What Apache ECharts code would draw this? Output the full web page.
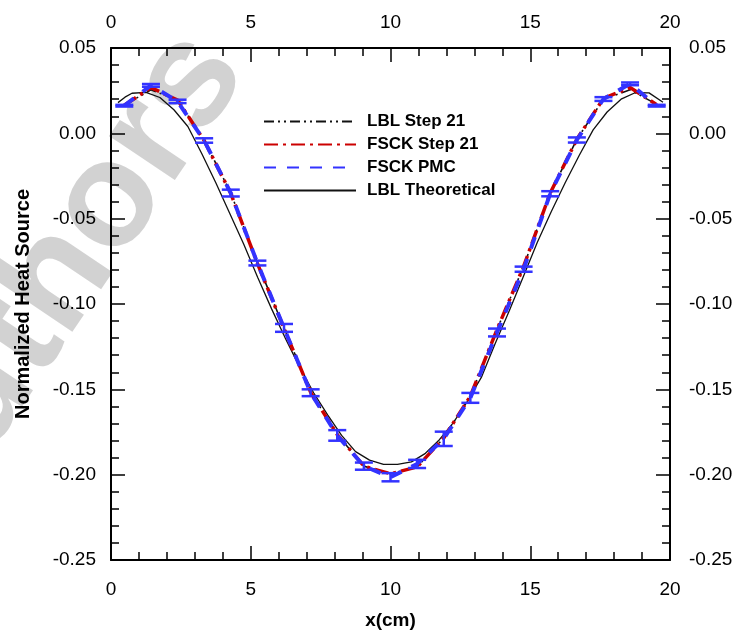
<!DOCTYPE html>
<html lang="en">
<head>
    <meta charset="UTF-8">
    <title>Normalized Heat Source</title>
    <script src="https://cdn.jsdelivr.net/npm/echarts@6.0.0/dist/echarts.min.js"></script>
    <style>
        html, body { margin: 0; padding: 0; background: #fff; }
        #main { width: 737px; height: 630px; }
    </style>
</head>
<body>
    <div id="main"></div>

    <script>
        // cell centres of the 21-cell grid (cm)
        var stepX = [0.476, 1.429, 2.381, 3.333, 4.286, 5.238, 6.190, 7.143, 8.095, 9.048, 10.000,
                     10.952, 11.905, 12.857, 13.810, 14.762, 15.714, 16.667, 17.619, 18.571, 19.524];

        var lblStep = [0.0165, 0.0255, 0.0195, -0.0040, -0.0350, -0.0760, -0.1140, -0.1515, -0.1765, -0.1950, -0.1995,
                       -0.1955, -0.1785, -0.1540, -0.1150, -0.0780, -0.0350, -0.0035, 0.0200, 0.0255, 0.0170];
        var fsckStep = [0.0165, 0.0268, 0.0195, -0.0042, -0.0352, -0.0762, -0.1142, -0.1518, -0.1765, -0.1950, -0.1995,
                        -0.1955, -0.1785, -0.1540, -0.1150, -0.0780, -0.0350, -0.0035, 0.0205, 0.0268, 0.0168];
        var pmc = [0.0162, 0.0281, 0.0187, -0.0042, -0.0350, -0.0760, -0.1140, -0.1520, -0.1770, -0.1950, -0.2015,
                   -0.1937, -0.1790, -0.1550, -0.1167, -0.0796, -0.0354, -0.0039, 0.0201, 0.0290, 0.0162];
        var pmcErr = [0.0005, 0.0008, 0.0010, 0.0013, 0.0020, 0.0014, 0.0023, 0.0020, 0.0031, 0.0021, 0.0024,
                      0.0024, 0.0042, 0.0029, 0.0023, 0.0015, 0.0015, 0.0015, 0.0011, 0.0008, 0.0005];

        var theoX = [0.25, 0.5, 0.75, 1.25, 1.75, 2.25, 2.75, 3.25, 3.75, 4.25, 4.75, 5.25, 5.75, 6.25, 6.75,
                     7.25, 7.75, 8.25, 8.75, 9.25, 9.75, 10.25, 10.75, 11.25, 11.75, 12.25, 12.75, 13.25, 13.75,
                     14.25, 14.75, 15.25, 15.75, 16.25, 16.75, 17.25, 17.75, 18.25, 18.75, 19.25, 19.75];
        var theoY = [0.0180, 0.0212, 0.0235, 0.0240, 0.0210, 0.0138, 0.0040, -0.0120, -0.0290, -0.0470, -0.0650,
                     -0.0845, -0.1030, -0.1205, -0.1370, -0.1520, -0.1650, -0.1770, -0.1865, -0.1915, -0.1940,
                     -0.1940, -0.1925, -0.1875, -0.1795, -0.1695, -0.1570, -0.1430, -0.1230, -0.1040, -0.0840,
                     -0.0640, -0.0460, -0.0290, -0.0130, 0.0020, 0.0125, 0.0200, 0.0238, 0.0237, 0.0182];

        var legendNames = ['LBL Step 21', 'FSCK Step 21', 'FSCK PMC', 'LBL Theoretical'];

        var FONT = 'Liberation Sans, Arial, Helvetica, sans-serif';

        function pairs(xs, ys) {
            return xs.map(function (x, i) { return [x, ys[i]]; });
        }

        function axisCommon() {
            return {
                axisLine: { show: true, onZero: false, lineStyle: { color: '#000', width: 2 } },
                axisTick: { show: true, inside: true, length: 14, lineStyle: { color: '#000', width: 1.5 } },
                minorTick: { show: true, splitNumber: 5, length: 8, lineStyle: { color: '#000', width: 1.5 } },
                splitLine: { show: false },
                minorSplitLine: { show: false }
            };
        }

        function xAxis(pos, margin) {
            return Object.assign(axisCommon(), {
                type: 'value', position: pos, min: 0, max: 20, interval: 5,
                axisLabel: { color: '#000', fontSize: 19, fontFamily: FONT, margin: margin }
            });
        }

        function yAxis(pos, margin) {
            return Object.assign(axisCommon(), {
                type: 'value', position: pos, min: -0.25, max: 0.05, interval: 0.05,
                axisLabel: {
                    color: '#000', fontSize: 19, fontFamily: FONT, margin: margin,
                    formatter: function (v) { return v.toFixed(2); }
                }
            });
        }

        // vertical error bar with two caps
        function renderErr(params, api) {
            var x = api.value(0), y = api.value(1), e = api.value(2);
            var hi = api.coord([x, y + e]);
            var lo = api.coord([x, y - e]);
            var w = 9;
            var st = { stroke: '#3333ff', lineWidth: 2.5 };
            return {
                type: 'group',
                children: [
                    { type: 'line', shape: { x1: hi[0] - w, y1: hi[1], x2: hi[0] + w, y2: hi[1] }, style: st },
                    { type: 'line', shape: { x1: lo[0] - w, y1: lo[1], x2: lo[0] + w, y2: lo[1] }, style: st },
                    { type: 'line', shape: { x1: hi[0], y1: hi[1], x2: lo[0], y2: lo[1] }, style: st }
                ]
            };
        }

        var xB = xAxis('bottom', 20);
        xB.name = 'x(cm)';
        xB.nameLocation = 'middle';
        xB.nameGap = 51;
        xB.nameTextStyle = { color: '#000', fontSize: 19, fontWeight: 'bold', fontFamily: FONT };

        var yL = yAxis('left', 15);
        yL.name = 'Normalized Heat Source';
        yL.nameLocation = 'middle';
        yL.nameGap = 78;
        yL.nameTextStyle = { color: '#000', fontSize: 20, fontWeight: 'bold', fontFamily: FONT };

        var chart = echarts.init(document.getElementById('main'), null, { renderer: 'canvas' });

        chart.setOption({
            backgroundColor: '#fff',
            animation: false,
            grid: { left: 111, right: 67, top: 48, bottom: 70, containLabel: false, outerBoundsMode: 'none' },
            graphic: [{
                type: 'text', x: 214, y: 48, rotation: 0.977, z: -10, silent: true,
                style: {
                    text: 'Authors', x: 0, y: 0,
                    font: 'bold 150px ' + FONT,
                    fill: 'rgba(195,195,195,0.75)',
                    align: 'right', verticalAlign: 'middle',
                    textAlign: 'right', textVerticalAlign: 'middle'
                }
            }],
            legend: {
                data: legendNames,
                orient: 'vertical',
                left: 258, top: 108,
                itemWidth: 92, itemHeight: 14, itemGap: 6,
                itemStyle: { opacity: 0 },
                textStyle: { color: '#000', fontSize: 17, fontWeight: 'bold', fontFamily: FONT, padding: [0, 0, 0, 6] }
            },
            xAxis: [xB, xAxis('top', 16)],
            yAxis: [yL, yAxis('right', 19)],
            series: [
                {
                    name: 'LBL Theoretical', type: 'line', xAxisIndex: 0, yAxisIndex: 0,
                    data: pairs(theoX, theoY), symbol: 'none', z: 2,
                    lineStyle: { color: '#111', width: 1.3, type: 'solid' }, itemStyle: { color: '#111' }
                },
                {
                    name: 'LBL Step 21', type: 'line', xAxisIndex: 0, yAxisIndex: 0,
                    data: pairs(stepX, lblStep), symbol: 'none', z: 3,
                    lineStyle: { color: '#111', width: 1.6, type: [10, 4, 2, 4, 2, 4] }, itemStyle: { color: '#111' }
                },
                {
                    name: 'FSCK Step 21', type: 'line', xAxisIndex: 0, yAxisIndex: 0,
                    data: pairs(stepX, fsckStep), symbol: 'none', z: 4,
                    lineStyle: { color: '#cc0000', width: 3.5, type: [14, 5, 3, 5] }, itemStyle: { color: '#cc0000' }
                },
                {
                    name: 'FSCK PMC', type: 'line', xAxisIndex: 0, yAxisIndex: 0,
                    data: pairs(stepX, pmc), symbol: 'none', z: 5,
                    lineStyle: { color: '#3333ff', width: 4, type: [12, 11] }, itemStyle: { color: '#3333ff' }
                },
                {
                    name: 'PMC error', type: 'custom', xAxisIndex: 0, yAxisIndex: 0, z: 6,
                    renderItem: renderErr,
                    encode: { x: 0, y: 1 },
                    data: stepX.map(function (x, i) { return [x, pmc[i], pmcErr[i]]; })
                }
            ]
        });
    </script>
</body>
</html>
